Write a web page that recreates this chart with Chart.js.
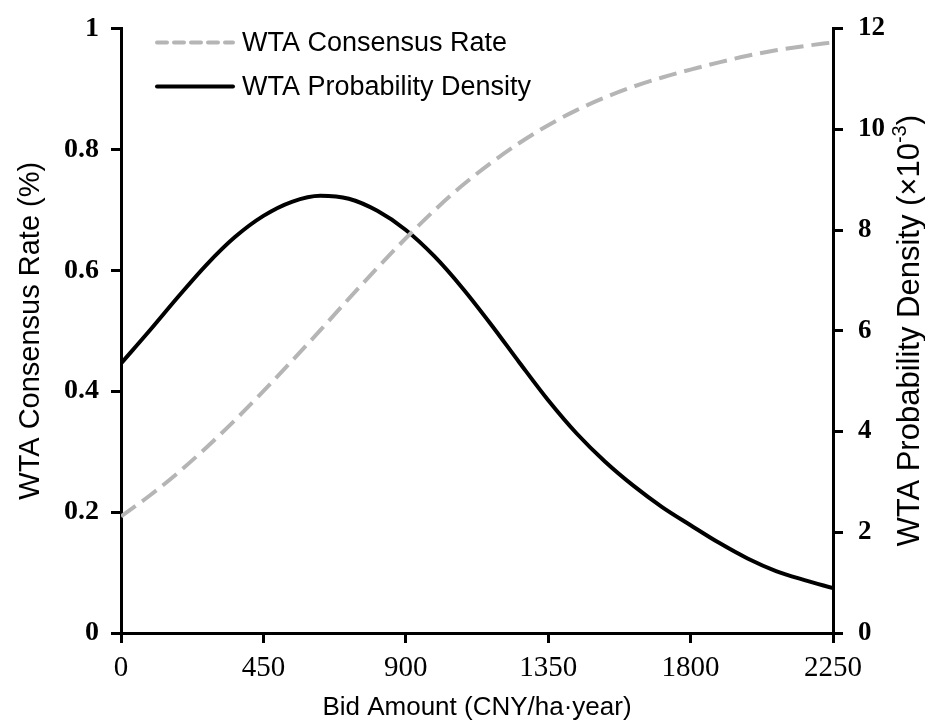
<!DOCTYPE html>
<html>
<head>
<meta charset="utf-8">
<script src="https://cdn.jsdelivr.net/npm/chart.js@4.4.0/dist/chart.umd.min.js"></script>
<style>
html,body{margin:0;padding:0;background:#fff;}
#wrap{width:925px;height:727px;}
</style>
</head>
<body>
<div id="wrap"><canvas id="c" width="925" height="727"></canvas></div>
<script>
// ---- data ----
const bidAmounts = [0,90,180,270,360,450,540,630,720,810,900,990,1080,1170,1260,1350,1440,1530,1620,1710,1800,1890,1980,2070,2160,2250];
const consensusRate = [0.193,0.227,0.265,0.307,0.352,0.400,0.450,0.501,0.553,0.604,0.653,0.699,0.741,0.778,0.811,0.840,0.865,0.886,0.904,0.919,0.932,0.944,0.955,0.964,0.971,0.977];
const probabilityDensity = [5.35,6.00,6.67,7.31,7.86,8.28,8.56,8.68,8.62,8.38,8.00,7.48,6.84,6.12,5.36,4.62,3.96,3.40,2.92,2.50,2.14,1.79,1.48,1.23,1.05,0.89];
const xTickValues = [0,450,900,1350,1800,2250];
const leftTickValues = [0,0.2,0.4,0.6,0.8,1];
const rightTickValues = [0,2,4,6,8,10,12];
const seriesLabels = ['WTA Consensus Rate','WTA Probability Density'];
const axisTitles = {
  x: 'Bid Amount (CNY/ha\u00B7year)',
  y: 'WTA Consensus Rate (%)',
  y2: ['WTA Probability Density (\u00D710', '-3', ')']
};

const serif = '"Liberation Serif","Times New Roman",serif';
const sans = '"Liberation Sans",Arial,sans-serif';

const insideLegend = {
  id: 'insideLegend',
  afterDraw(chart) {
    const ctx = chart.ctx;
    const ca = chart.chartArea;
    const rows = [ca.top + 14, ca.top + 58];
    const x0 = ca.left + 36, x1 = ca.left + 112, tx = ca.left + 121;
    chart.data.datasets.forEach((ds, i) => {
      const y = rows[i];
      ctx.save();
      ctx.strokeStyle = ds.borderColor;
      ctx.lineWidth = ds.borderWidth;
      ctx.lineCap = 'round';
      ctx.setLineDash(i === 0 ? [10, 7] : []);
      ctx.beginPath();
      ctx.moveTo(x0, y);
      ctx.lineTo(x1, y);
      ctx.stroke();
      ctx.setLineDash([]);
      ctx.fillStyle = '#000';
      ctx.font = '27px ' + sans;
      ctx.textBaseline = 'middle';
      ctx.textAlign = 'left';
      ctx.fillText(ds.label, tx, y + 1);
      ctx.restore();
    });
  }
};

// right-axis title reads bottom-to-top, with a superscript exponent
const rightTitle = {
  id: 'rightTitle',
  afterDraw(chart) {
    const ctx = chart.ctx;
    const s = chart.scales.y2;
    const parts = axisTitles.y2;
    const big = '31px ' + sans, small = '20px ' + sans;
    ctx.save();
    ctx.fillStyle = '#000';
    ctx.textBaseline = 'middle';
    ctx.textAlign = 'left';
    ctx.font = big;
    const w0 = ctx.measureText(parts[0]).width;
    const w2 = ctx.measureText(parts[2]).width;
    ctx.font = small;
    const w1 = ctx.measureText(parts[1]).width;
    const total = w0 + w1 + w2;
    ctx.translate(s.right - 15, (s.top + s.bottom) / 2);
    ctx.rotate(-Math.PI / 2);
    let x = -total / 2;
    ctx.font = big;
    ctx.fillText(parts[0], x, 0);
    x += w0;
    ctx.font = small;
    ctx.fillText(parts[1], x, -10);
    x += w1;
    ctx.font = big;
    ctx.fillText(parts[2], x, 0);
    ctx.restore();
  }
};

const gridCommon = {
  display: true,
  drawOnChartArea: false,
  drawTicks: true,
  tickLength: 10,
  tickWidth: 3,
  tickColor: '#000',
  color: '#000',
  lineWidth: 3
};
const plainLabel = v => String(v);

new Chart(document.getElementById('c'), {
  type: 'line',
  data: {
    datasets: [
      {
        label: seriesLabels[0],
        data: bidAmounts.map((b, i) => ({x: b, y: consensusRate[i]})),
        yAxisID: 'y',
        borderColor: '#b5b5b5',
        borderWidth: 4,
        borderDash: [18, 8],
        pointRadius: 0,
        cubicInterpolationMode: 'monotone',
        fill: false
      },
      {
        label: seriesLabels[1],
        data: bidAmounts.map((b, i) => ({x: b, y: probabilityDensity[i]})),
        yAxisID: 'y2',
        borderColor: '#000',
        borderWidth: 4,
        pointRadius: 0,
        cubicInterpolationMode: 'monotone',
        fill: false
      }
    ]
  },
  options: {
    responsive: false,
    animation: false,
    devicePixelRatio: 1,
    layout: {padding: {top: 23, left: 0, right: 0, bottom: 0}},
    plugins: {legend: {display: false}, tooltip: {enabled: false}},
    scales: {
      x: {
        type: 'linear',
        position: 'bottom',
        min: 0, max: 2250,
        afterBuildTicks: s => { s.ticks = xTickValues.map(v => ({value: v})); },
        afterFit: s => { s.height = 94; },
        grid: gridCommon,
        border: {display: true, color: '#000', width: 3},
        ticks: {
          color: '#000', padding: 11, maxRotation: 0, autoSkip: false,
          callback: plainLabel,
          font: {family: serif, size: 29, lineHeight: 1}
        },
        title: {
          display: true, text: axisTitles.x, color: '#000',
          font: {family: sans, size: 26, lineHeight: 1},
          padding: {top: 0, bottom: 6}
        }
      },
      y: {
        type: 'linear',
        position: 'left',
        min: 0, max: 1,
        afterBuildTicks: s => { s.ticks = leftTickValues.map(v => ({value: v})); },
        afterFit: s => { s.width = 121; },
        grid: gridCommon,
        border: {display: true, color: '#000', width: 3},
        ticks: {
          color: '#000', padding: 12, autoSkip: false,
          callback: plainLabel,
          font: {family: serif, size: 28, weight: 'bold', lineHeight: 1}
        },
        title: {
          display: true, text: axisTitles.y, color: '#000',
          font: {family: sans, size: 29, lineHeight: 1},
          padding: {top: 16, bottom: 0}
        }
      },
      y2: {
        type: 'linear',
        position: 'right',
        min: 0, max: 12,
        afterBuildTicks: s => { s.ticks = rightTickValues.map(v => ({value: v})); },
        afterFit: s => { s.width = 92; },
        grid: gridCommon,
        border: {display: true, color: '#000', width: 3},
        ticks: {
          color: '#000', padding: 15, autoSkip: false,
          callback: plainLabel,
          font: {family: serif, size: 27, weight: 'bold', lineHeight: 1}
        },
        title: {display: false}
      }
    }
  },
  plugins: [insideLegend, rightTitle]
});
</script>
</body>
</html>
